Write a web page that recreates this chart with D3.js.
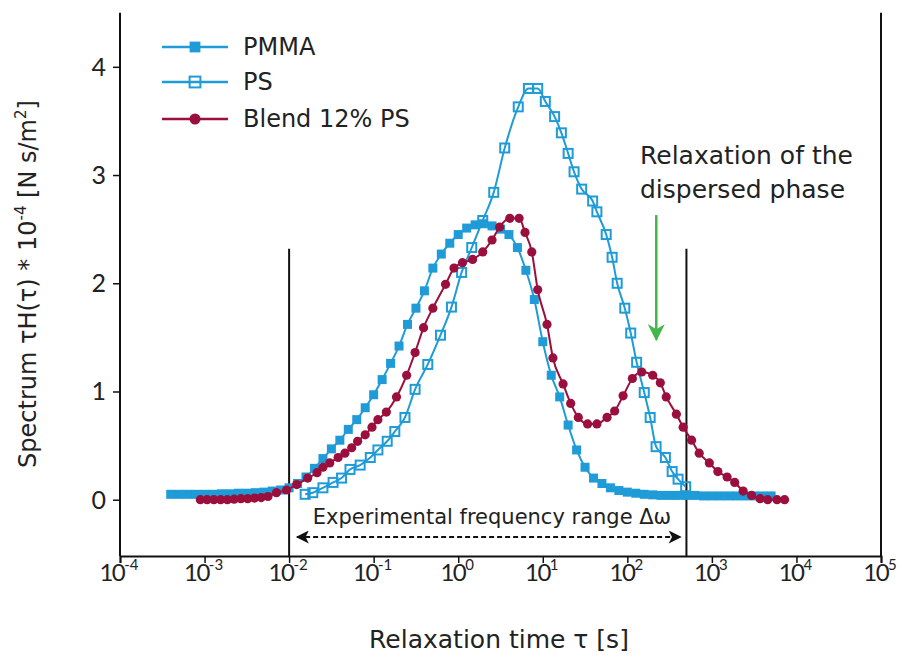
<!DOCTYPE html>
<html>
<head>
<meta charset="utf-8">
<script src="https://cdn.jsdelivr.net/npm/d3@7/dist/d3.min.js"></script>
<style>
  html, body { margin: 0; padding: 0; background: #fff; }
  svg text { font-family: "DejaVu Sans", Lato, sans-serif; fill: #222; }
  svg text.tick { font-family: Lato, "Open Sans", sans-serif; }
</style>
</head>
<body>
<svg id="chart" width="902" height="657"></svg>
<script>
// Relaxation-time spectra (log10 of tau in s, spectrum tau*H(tau) * 1e-4 in N s/m^2)
const pmmaLogTau = [-3.4,-3.3,-3.2,-3.1,-3.0,-2.9,-2.8,-2.7,-2.6,-2.5,-2.4,-2.3,-2.2,-2.1,-2.0,
  -1.9,-1.8,-1.7,-1.6,-1.5,-1.4,-1.3,-1.2,-1.1,-1.0,-0.9,-0.8,-0.7,-0.6,-0.5,-0.4,-0.3,-0.2,-0.1,
  0.0,0.1,0.2,0.3,0.4,0.5,0.6,0.7,0.8,0.9,1.0,1.1,1.2,1.3,1.4,1.5,1.6,1.7,1.8,1.9,2.0,2.1,2.2,2.3,
  2.4,2.5,2.6,2.7,2.8,2.9,3.0,3.1,3.2,3.3,3.4,3.5,3.6,3.7];
const pmmaValues = [0.05,0.05,0.05,0.05,0.05,0.05,0.055,0.055,0.06,0.06,0.065,0.07,0.08,0.09,0.11,
  0.15,0.21,0.29,0.38,0.47,0.55,0.65,0.74,0.85,0.97,1.11,1.26,1.42,1.62,1.77,1.93,2.14,2.27,2.37,
  2.45,2.51,2.54,2.55,2.53,2.50,2.45,2.33,2.12,1.85,1.46,1.15,0.95,0.69,0.46,0.30,0.20,0.15,0.11,0.085,0.07,0.06,0.05,0.045,
  0.04,0.04,0.04,0.04,0.04,0.035,0.035,0.035,0.035,0.035,0.035,0.035,0.035,0.035];

const psLogTau = [-1.81,-1.72,-1.60,-1.48,-1.38,-1.28,-1.16,-1.04,-0.95,-0.84,-0.75,-0.63,-0.51,-0.36,
  -0.21,-0.08,0.04,0.16,0.29,0.42,0.55,0.71,0.83,0.94,1.03,1.14,1.22,1.30,1.37,1.46,1.59,1.64,1.75,
  1.82,1.88,1.97,2.04,2.11,2.20,2.27,2.34,2.45,2.53,2.60,2.69];
const psValues = [0.05,0.065,0.11,0.16,0.2,0.28,0.32,0.39,0.46,0.54,0.63,0.76,1.02,1.25,
  1.52,1.78,2.1,2.33,2.58,2.84,3.25,3.63,3.8,3.8,3.68,3.54,3.39,3.2,3.03,2.87,2.76,2.66,2.45,
  2.24,2.0,1.77,1.54,1.27,0.99,0.76,0.49,0.39,0.26,0.19,0.12];

const blendLogTau = [-3.05,-2.97,-2.89,-2.81,-2.73,-2.65,-2.57,-2.49,-2.41,-2.33,-2.25,-2.15,-2.03,-1.91,
  -1.78,-1.67,-1.60,-1.52,-1.42,-1.34,-1.26,-1.19,-1.10,-1.02,-0.95,-0.85,-0.73,-0.61,-0.51,-0.41,-0.30,
  -0.15,-0.05,0.05,0.17,0.29,0.40,0.49,0.61,0.72,0.79,0.87,0.94,1.05,1.12,1.24,1.33,1.42,1.53,1.64,1.76,
  1.85,1.95,2.06,2.17,2.30,2.39,2.46,2.58,2.66,2.76,2.85,2.97,3.07,3.18,3.27,3.37,3.47,3.57,3.66,3.77,3.86];
const blendValues = [0,0,0,0,0,0.005,0.01,0.01,0.015,0.02,0.03,0.065,0.09,0.14,
  0.2,0.25,0.3,0.34,0.39,0.43,0.48,0.54,0.6,0.67,0.74,0.81,0.95,1.15,1.36,1.59,1.77,
  1.99,2.14,2.19,2.22,2.29,2.4,2.52,2.6,2.6,2.47,2.29,1.94,1.62,1.31,1.07,0.89,0.76,0.7,0.7,0.76,
  0.82,0.96,1.12,1.18,1.15,1.08,0.95,0.79,0.67,0.55,0.43,0.34,0.26,0.21,0.16,0.08,0.04,0.01,0,0,0];

const decades = [-4,-3,-2,-1,0,1,2,3,4,5];
const yTicks = [0,1,2,3,4];
const seriesNames = ["PMMA", "PS", "Blend 12% PS"];
const rangeLimits = [1e-2, 500];   // experimental frequency window (tau, s)
const phaseArrowTau = 220;         // dispersed-phase relaxation marker
const phaseArrowSpan = [2.63, 1.48];

const blue = "#1f9bd7", maroon = "#9b0f3d", green = "#43b649";

const svg = d3.select("#chart");
const x = d3.scaleLog().domain([1e-4, 1e5]).range([120, 881]);
const y = d3.scaleLinear().domain([-0.52, 4.5]).range([556, 12.7]);

// axes
const xAxis = d3.axisBottom(x).tickValues(decades.map(e => Math.pow(10, e)))
  .tickSize(7).tickFormat("");
const gx = svg.append("g").attr("transform", `translate(0,${y(-0.52)})`).call(xAxis);
gx.select(".domain").attr("stroke", "#111").attr("stroke-width", 2);
gx.selectAll(".tick line").attr("stroke", "#111").attr("stroke-width", 1.5);

const yAxis = d3.axisLeft(y).tickValues(yTicks).tickSize(7).tickFormat("");
const gy = svg.append("g").attr("transform", `translate(${x(1e-4)},0)`).call(yAxis);
gy.select(".domain").attr("stroke", "#111").attr("stroke-width", 2).attr("d", `M0,${y(4.5)}V${y(-0.52)}`);
gy.selectAll(".tick line").attr("stroke", "#111").attr("stroke-width", 1.5);

// right frame line
svg.append("line").attr("x1", x(1e5)).attr("x2", x(1e5)).attr("y1", y(4.5)).attr("y2", y(-0.52))
  .attr("stroke", "#111").attr("stroke-width", 2);

// tick labels
const xl = svg.append("g");
decades.forEach(e => {
  const t = xl.append("text").attr("class", "tick").attr("x", x(Math.pow(10, e)) - 1).attr("y", 581)
    .attr("text-anchor", "middle").attr("font-size", 24).attr("letter-spacing", -1.5);
  t.append("tspan").text("10");
  t.append("tspan").attr("dy", -11).attr("font-size", 15).attr("letter-spacing", 0).text(String(e));
});
yTicks.forEach(v => {
  svg.append("text").attr("class", "tick").attr("x", 106).attr("y", y(v) + 9).attr("text-anchor", "end")
    .attr("font-size", 25).text(v);
});

// axis titles
svg.append("text").attr("x", 499).attr("y", 648).attr("text-anchor", "middle")
  .attr("font-size", 25).text("Relaxation time τ [s]");
const yt = svg.append("text").attr("transform", "translate(36,284) rotate(-90)")
  .attr("text-anchor", "middle").attr("font-size", 24);
yt.append("tspan").text("Spectrum τH(τ) * 10");
yt.append("tspan").attr("dy", -10).attr("font-size", 15).text("-4");
yt.append("tspan").attr("dy", 10).text(" [N s/m");
yt.append("tspan").attr("dy", -10).attr("font-size", 15).text("2");
yt.append("tspan").attr("dy", 10).text("]");

// experimental window lines
rangeLimits.forEach(t => {
  svg.append("line").attr("x1", x(t)).attr("x2", x(t)).attr("y1", y(2.32)).attr("y2", y(-0.52))
    .attr("stroke", "#111").attr("stroke-width", 2);
});
svg.append("defs").html(`
  <marker id="ah" viewBox="0 0 10 10" refX="9" refY="5" markerWidth="17" markerHeight="13" markerUnits="userSpaceOnUse" orient="auto-start-reverse">
    <path d="M0,0 L10,5 L0,10 L2.5,5 Z" fill="#111"/></marker>
  <marker id="gh" viewBox="0 0 10 10" refX="9" refY="5" markerWidth="22" markerHeight="17" markerUnits="userSpaceOnUse" orient="auto">
    <path d="M0,0 L10,5 L0,10 L3,5 Z" fill="${green}"/></marker>`);
const arrowY = 537;
svg.append("line").attr("x1", x(rangeLimits[0]) + 8).attr("x2", x(rangeLimits[1]) - 6)
  .attr("y1", arrowY).attr("y2", arrowY)
  .attr("stroke", "#111").attr("stroke-width", 2).attr("stroke-dasharray", "5,3")
  .attr("marker-start", "url(#ah)").attr("marker-end", "url(#ah)");
svg.append("text").attr("x", 492).attr("y", 524)
  .attr("text-anchor", "middle").attr("font-size", 21).text("Experimental frequency range Δω");

// dispersed-phase annotation
svg.append("text").attr("x", 640).attr("y", 164).attr("font-size", 25).text("Relaxation of the");
svg.append("text").attr("x", 640).attr("y", 198).attr("font-size", 25).text("dispersed phase");
svg.append("line").attr("x1", x(phaseArrowTau)).attr("x2", x(phaseArrowTau))
  .attr("y1", y(phaseArrowSpan[0])).attr("y2", y(phaseArrowSpan[1]))
  .attr("stroke", green).attr("stroke-width", 2.5).attr("marker-end", "url(#gh)");

// series
const mk = (lt, vals) => lt.map((e, i) => ({ t: Math.pow(10, e), v: vals[i] }));
const series = [
  { name: seriesNames[0], data: mk(pmmaLogTau, pmmaValues), color: blue, shape: "fsq" },
  { name: seriesNames[1], data: mk(psLogTau, psValues), color: blue, shape: "osq" },
  { name: seriesNames[2], data: mk(blendLogTau, blendValues), color: maroon, shape: "dot" }
];
const line = d3.line().x(d => x(d.t)).y(d => y(d.v)).curve(d3.curveMonotoneX);

function drawMarker(g, cx, cy, s, color, big) {
  const k = big ? 1.2 : 1;
  if (s === "fsq") {
    g.append("rect").attr("x", cx - 4.5 * k).attr("y", cy - 4.5 * k).attr("width", 9 * k).attr("height", 9 * k)
      .attr("fill", color);
  } else if (s === "osq") {
    g.append("rect").attr("x", cx - 4.5 * k).attr("y", cy - 4.5 * k).attr("width", 9 * k).attr("height", 9 * k)
      .attr("fill", "none").attr("stroke", color).attr("stroke-width", 2);
  } else {
    g.append("circle").attr("cx", cx).attr("cy", cy).attr("r", 4.6 * k).attr("fill", color);
  }
}

series.forEach(s => {
  const g = svg.append("g");
  g.append("path").datum(s.data).attr("d", line).attr("fill", "none")
    .attr("stroke", s.color).attr("stroke-width", 2);
  s.data.forEach(d => drawMarker(g, x(d.t), y(d.v), s.shape, s.color, false));
});

// legend
const legY = [47, 82, 119];
series.forEach((s, i) => {
  const g = svg.append("g");
  g.append("line").attr("x1", 162).attr("x2", 228).attr("y1", legY[i]).attr("y2", legY[i])
    .attr("stroke", s.color).attr("stroke-width", 2.5);
  drawMarker(g, 195, legY[i], s.shape, s.color, true);
  g.append("text").attr("x", 243).attr("y", legY[i] + 8).attr("font-size", 24).text(s.name);
});
</script>
</body>
</html>
